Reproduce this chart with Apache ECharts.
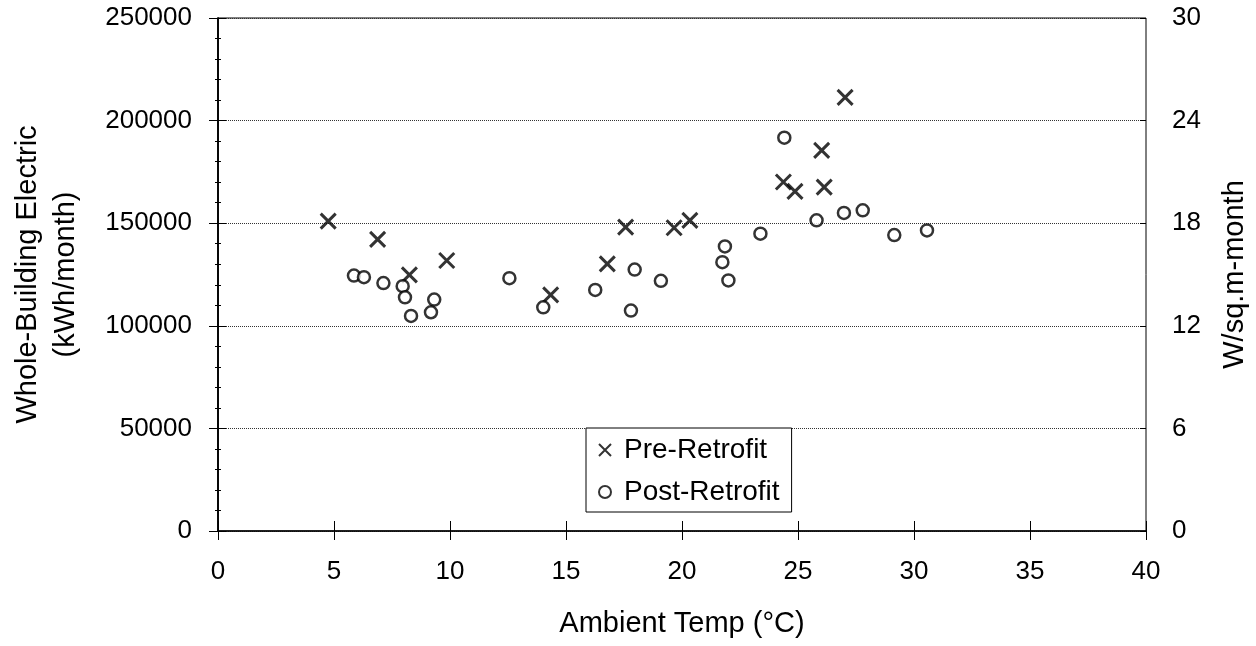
<!DOCTYPE html>
<html>
<head>
<meta charset="utf-8">
<script src="https://cdn.jsdelivr.net/npm/echarts@6/dist/echarts.min.js"></script>
<style>html,body{margin:0;padding:0;background:#fff}#c{width:1256px;height:646px}</style>
</head>
<body>
<div id="c"></div>
<script>
// Data
const preTemp = [4.75, 6.88, 8.25, 9.86, 14.34, 16.78, 17.57, 19.66, 20.34, 24.37, 24.87, 26.02, 26.13, 27.03];
const preKwh  = [151000, 142100, 124800, 131800, 115100, 130200, 148100, 147800, 151400, 170100, 165500, 185500, 167600, 211300];
const postTemp = [5.86, 6.29, 7.13, 7.96, 8.06, 8.32, 9.18, 9.32, 12.56, 14.02, 16.26, 17.80, 17.96, 19.09, 21.74, 21.85, 22.0, 23.38, 24.41, 25.8, 26.98, 27.79, 29.15, 30.56];
const postKwh  = [124500, 123700, 120800, 119300, 113900, 104800, 106600, 112800, 123200, 109000, 117500, 107400, 127400, 121900, 131000, 138700, 122100, 144900, 191700, 151400, 155000, 156300, 144200, 146500];
const seriesNames = ['Pre-Retrofit', 'Post-Retrofit'];
const xTitle = 'Ambient Temp (°C)';
const yTitle = 'Whole-Building Electric\n(kWh/month)';
const y2Title = 'W/sq.m-month';

const font = 'Liberation Sans, Arial, Helvetica, sans-serif';
const pairs = (xs, ys) => xs.map((x, i) => [x, ys[i]]);
const tickFont = { fontFamily: font, fontSize: 26, color: '#000' };
const titleFont = { fontFamily: font, fontSize: 29, color: '#000' };

const chart = echarts.init(document.getElementById('c'));
chart.setOption({
  animation: false,
  backgroundColor: '#fff',
  textStyle: { fontFamily: font, color: '#000' },
  grid: { left: 218, right: 110, top: 18, bottom: 115, show: true, borderColor: '#000', borderWidth: 1,
          containLabel: false, outerBoundsMode: 'none' },
  legend: {
    orient: 'vertical', left: 586, top: 428,
    padding: [8, 12, 6, 12], itemGap: 14,
    itemWidth: 12, itemHeight: 12,
    borderColor: '#000', borderWidth: 1, backgroundColor: '#fff',
    itemStyle: { borderWidth: 2 },
    textStyle: { fontFamily: font, fontSize: 28, color: '#000', lineHeight: 28, padding: [0, 0, 0, 8] },
    data: seriesNames
  },
  xAxis: [{
    type: 'value', min: 0, max: 40, interval: 5,
    name: xTitle, nameLocation: 'middle', nameGap: 78,
    nameTextStyle: titleFont,
    axisLine: { lineStyle: { color: '#000', width: 1.5 } },
    axisTick: { inside: false, length: 9, lineStyle: { color: '#000' } },
    axisLabel: Object.assign({ margin: 28 }, tickFont),
    splitLine: { show: false }
  }, {
    type: 'value', min: 0, max: 40, interval: 5, position: 'bottom',
    axisLine: { show: false },
    axisTick: { inside: true, length: 10, lineStyle: { color: '#000' } },
    axisLabel: { show: false },
    splitLine: { show: false }
  }],
  yAxis: [{
    type: 'value', min: 0, max: 250000, interval: 50000,
    name: yTitle, nameLocation: 'middle', nameGap: 133, nameRotate: 90,
    nameTextStyle: Object.assign({ lineHeight: 38 }, titleFont),
    axisLine: { show: true, lineStyle: { color: '#000', width: 1.5 } },
    axisTick: { show: true, length: 9, lineStyle: { color: '#000' } },
    minorTick: { show: true, splitNumber: 5, length: 3, lineStyle: { color: '#000' } },
    axisLabel: Object.assign({ margin: 26, formatter: v => String(v) }, tickFont),
    splitLine: { show: true, lineStyle: { color: '#333', type: 'dotted', width: 1 } }
  }, {
    type: 'value', min: 0, max: 30, interval: 6, position: 'right',
    name: y2Title, nameLocation: 'middle', nameGap: 74, nameRotate: 90,
    nameTextStyle: titleFont,
    axisLine: { show: true, lineStyle: { color: '#000', width: 1.5 } },
    axisTick: { show: true, length: 8, lineStyle: { color: '#000' } },
    minorTick: { show: true, splitNumber: 5, length: 3, lineStyle: { color: '#000' } },
    axisLabel: Object.assign({ margin: 26 }, tickFont),
    splitLine: { show: false }
  }, {
    type: 'value', min: 0, max: 30, interval: 6, position: 'right',
    axisLine: { show: false },
    axisTick: { show: true, inside: true, length: 6, lineStyle: { color: '#000' } },
    axisLabel: { show: false },
    splitLine: { show: false }
  }],
  series: [{
    name: seriesNames[0], type: 'scatter', xAxisIndex: 0, yAxisIndex: 0,
    symbol: 'path://M0,0L10,10M10,0L0,10', symbolSize: 15,
    itemStyle: { color: 'rgba(0,0,0,0)', borderColor: '#000', borderWidth: 3 },
    data: pairs(preTemp, preKwh)
  }, {
    name: seriesNames[1], type: 'scatter', xAxisIndex: 0, yAxisIndex: 0,
    symbol: 'circle', symbolSize: 12,
    itemStyle: { color: '#fff', borderColor: '#000', borderWidth: 2.5 },
    data: pairs(postTemp, postKwh)
  }]
});
</script>
</body>
</html>
